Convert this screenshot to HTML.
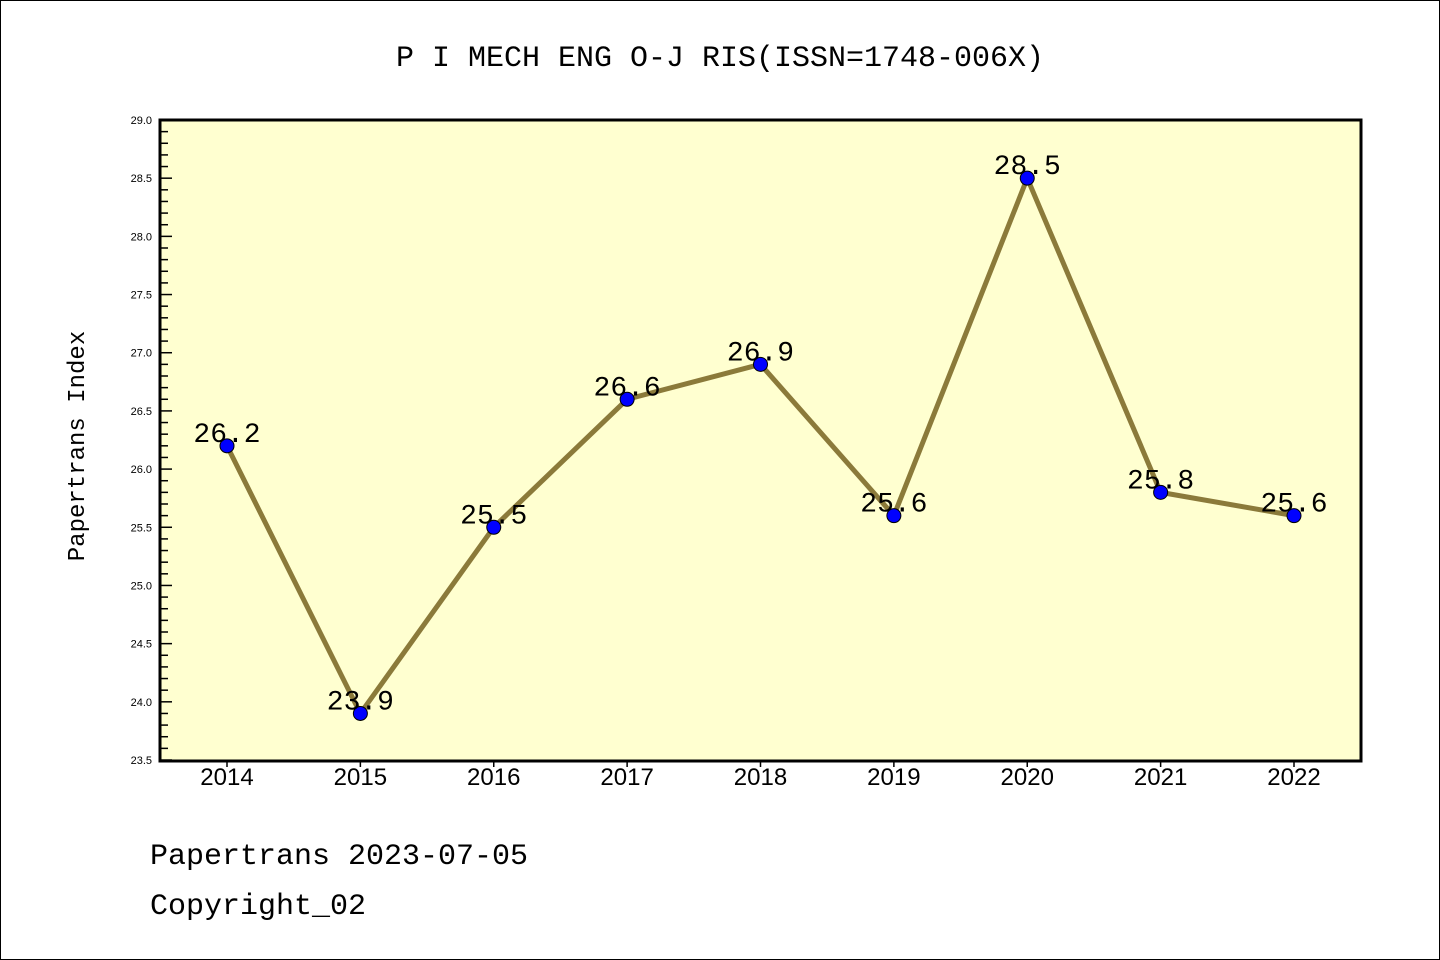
<!DOCTYPE html>
<html><head><meta charset="utf-8"><style>
body{margin:0;background:#fff}
svg{display:block}
text{font-family:"Liberation Mono","DejaVu Sans Mono",monospace}
.sans{font-family:"Liberation Sans","DejaVu Sans",sans-serif}
</style></head><body>
<svg id="chart" width="1440" height="960">
<rect x="0.5" y="0.5" width="1439" height="959" fill="#fff" stroke="#000"/>
<text x="720" y="66" font-size="30" text-anchor="middle">P I MECH ENG O-J RIS(ISSN=1748-006X)</text>
<rect x="160" y="120" width="1201" height="641" fill="#ffffd0"/>
<g id="yaxis"></g>
<g id="xaxis"></g>
<g id="series"></g>
<rect x="160" y="120" width="1201" height="641" fill="none" stroke="#000" stroke-width="3"/>
<text transform="translate(84,446) rotate(-90)" font-size="24" text-anchor="middle">Papertrans Index</text>
<text x="150" y="864" font-size="30">Papertrans 2023-07-05</text>
<text x="150" y="914" font-size="30">Copyright_02</text>
</svg>
<script>
const years=["2014","2015","2016","2017","2018","2019","2020","2021","2022"];
const values=[26.2,23.9,25.5,26.6,26.9,25.6,28.5,25.8,25.6];
const yTicks=["23.5","24.0","24.5","25.0","25.5","26.0","26.5","27.0","27.5","28.0","28.5","29.0"];
const NS="http://www.w3.org/2000/svg";
const yMin=23.5,yMax=29.0,yTop=120,yBot=760;
function ys(v){return yBot-(v-yMin)/(yMax-yMin)*(yBot-yTop);}
function xs(i){return 227+i*(1294-227)/(years.length-1);}
function mk(tag,attrs,parent){const e=document.createElementNS(NS,tag);for(const k in attrs)e.setAttribute(k,attrs[k]);parent.appendChild(e);return e;}
const ya=document.getElementById('yaxis'),xa=document.getElementById('xaxis'),se=document.getElementById('series');
for(let k=0;k<=55;k++){
  const v=yMin+k*0.1;
  const major=(k%5===0);
  const l=mk('line',{x1:160,x2:major?172:168,y1:ys(v),y2:ys(v),stroke:'#000','stroke-width':1.5},ya);
  
  
}
yTicks.forEach(t=>{
  const e=mk('text',{x:152,y:ys(parseFloat(t))+4,'font-size':11,'text-anchor':'end','class':'sans'},ya);
  
  
  e.textContent=t;
});
years.forEach((y,i)=>{
  const l=mk('line',{x1:xs(i),x2:xs(i),y1:761,y2:767,stroke:'#000','stroke-width':1.5},xa);
  
  
  const e=mk('text',{x:xs(i),y:785,'font-size':24,'text-anchor':'middle','class':'sans'},xa);
  
  
  e.textContent=y;
});
const pl=mk('polyline',{points:values.map((v,i)=>xs(i)+','+ys(v)).join(' '),fill:'none',stroke:'#8b7a3a','stroke-width':5},se);


values.forEach((v,i)=>{
  const c=mk('circle',{cx:xs(i),cy:ys(v),r:7,fill:'#0000ff',stroke:'#000','stroke-width':1},se);
  
  
  const t=mk('text',{x:xs(i),y:ys(v)-4,'font-size':28,'text-anchor':'middle'},se);
  
  
  t.textContent=v.toFixed(1);
});
</script>
</body></html>
